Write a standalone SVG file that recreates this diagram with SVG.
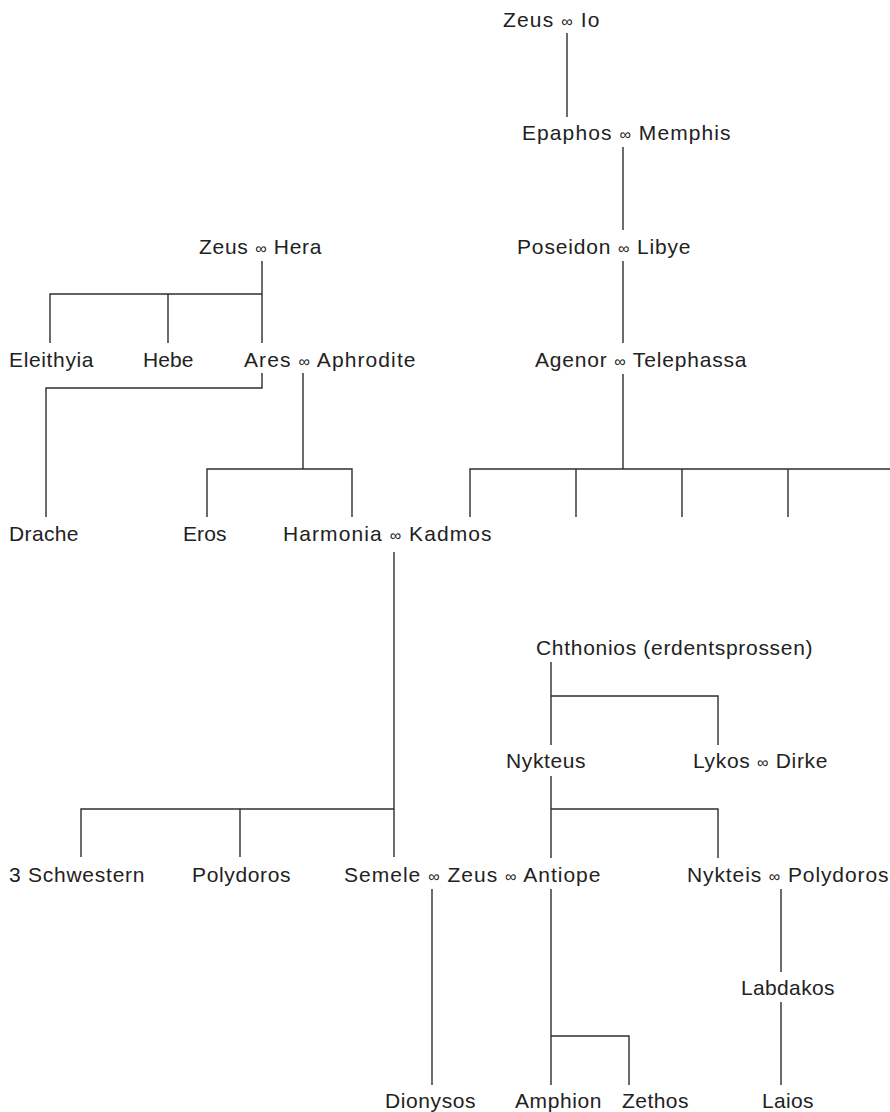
<svg xmlns="http://www.w3.org/2000/svg" width="890" height="1112" viewBox="0 0 890 1112">
<style>
text{font-family:"Liberation Sans",Arial,Helvetica,sans-serif;font-size:21px;fill:#222;letter-spacing:0.5px}
.i{font-size:16px}
.c path{fill:none;stroke:#2e2e2e;stroke-width:1.4}
</style>
<rect width="890" height="1112" fill="#fff"/>
<g class="c" id="connectors">
<path d="M567 33V117"/>
<path d="M623 147V230"/>
<path d="M623 261V343"/>
<path d="M262 261V294M50 343V294H262V343M168 294V343"/>
<path d="M623 374V469M470 517V469H890M576 469V517M682 469V517M788 469V517"/>
<path d="M262 373V388H46V517"/>
<path d="M303 373V469M207 517V469H352V517"/>
<path d="M394 552V809M81 857V809H394V857M240 809V857"/>
<path d="M551 662V745M551 696H718V745"/>
<path d="M551 776V858M551 809H718V858"/>
<path d="M432 889V1085"/>
<path d="M551 889V1085M551 1036H629V1085"/>
<path d="M781 889V972M781 1002V1085"/>
</g>
<g id="zeus-io"><text x="503" y="27" textLength="97" lengthAdjust="spacing">Zeus <tspan class="i">∞</tspan> Io</text></g>
<g id="epaphos-memphis"><text x="522" y="140" textLength="209" lengthAdjust="spacing">Epaphos <tspan class="i">∞</tspan> Memphis</text></g>
<g id="poseidon-libye"><text x="517" y="254" textLength="174" lengthAdjust="spacing">Poseidon <tspan class="i">∞</tspan> Libye</text></g>
<g id="zeus-hera"><text x="199" y="254" textLength="123" lengthAdjust="spacing">Zeus <tspan class="i">∞</tspan> Hera</text></g>
<g id="eleithyia"><text x="9" y="367" textLength="85" lengthAdjust="spacing">Eleithyia</text></g>
<g id="hebe"><text x="143" y="367" textLength="51" lengthAdjust="spacing">Hebe</text></g>
<g id="ares-aphrodite"><text x="244" y="367" textLength="172" lengthAdjust="spacing">Ares <tspan class="i">∞</tspan> Aphrodite</text></g>
<g id="agenor-telephassa"><text x="535" y="367" textLength="212" lengthAdjust="spacing">Agenor <tspan class="i">∞</tspan> Telephassa</text></g>
<g id="drache"><text x="9" y="541" textLength="70" lengthAdjust="spacing">Drache</text></g>
<g id="eros"><text x="183" y="541" textLength="44" lengthAdjust="spacing">Eros</text></g>
<g id="harmonia-kadmos"><text x="283" y="541" textLength="209" lengthAdjust="spacing">Harmonia <tspan class="i">∞</tspan> Kadmos</text></g>
<g id="chthonios"><text x="536" y="655" textLength="277" lengthAdjust="spacing">Chthonios (erdentsprossen)</text></g>
<g id="nykteus"><text x="506" y="768" textLength="80" lengthAdjust="spacing">Nykteus</text></g>
<g id="lykos-dirke"><text x="693" y="768" textLength="135" lengthAdjust="spacing">Lykos <tspan class="i">∞</tspan> Dirke</text></g>
<g id="schwestern"><text x="9" y="882" textLength="136" lengthAdjust="spacing">3 Schwestern</text></g>
<g id="polydoros"><text x="192" y="882" textLength="99" lengthAdjust="spacing">Polydoros</text></g>
<g id="semele-zeus-antiope"><text x="344" y="882" textLength="257" lengthAdjust="spacing">Semele <tspan class="i">∞</tspan> Zeus <tspan class="i">∞</tspan> Antiope</text></g>
<g id="nykteis-polydoros"><text x="687" y="882" textLength="202" lengthAdjust="spacing">Nykteis <tspan class="i">∞</tspan> Polydoros</text></g>
<g id="labdakos"><text x="741" y="995" textLength="94" lengthAdjust="spacing">Labdakos</text></g>
<g id="dionysos"><text x="385" y="1108" textLength="91" lengthAdjust="spacing">Dionysos</text></g>
<g id="amphion"><text x="515" y="1108" textLength="87" lengthAdjust="spacing">Amphion</text></g>
<g id="zethos"><text x="622" y="1108" textLength="67" lengthAdjust="spacing">Zethos</text></g>
<g id="laios"><text x="762" y="1108" textLength="52" lengthAdjust="spacing">Laios</text></g>
</svg>
